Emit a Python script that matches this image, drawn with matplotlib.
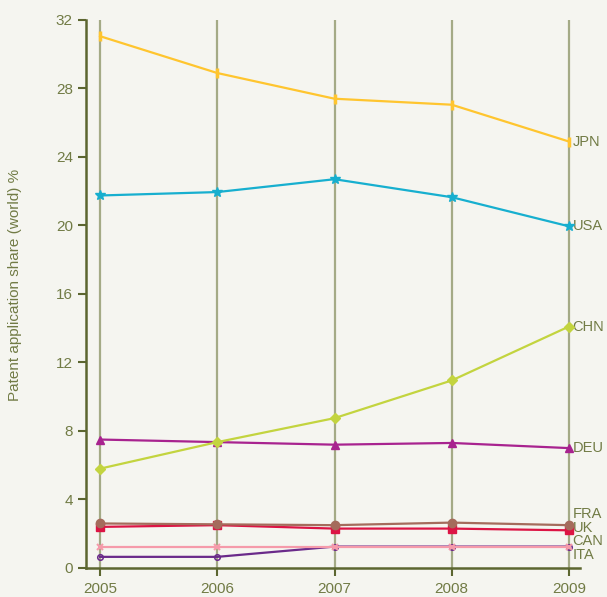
import matplotlib
matplotlib.use("Agg")
import matplotlib.pyplot as plt

plt.rcParams["font.family"] = ["Liberation Sans", "DejaVu Sans"]

years = [2005, 2006, 2007, 2008, 2009]

jpn = [31.05, 28.9, 27.4, 27.05, 24.9]
usa = [21.75, 21.95, 22.7, 21.65, 19.95]
chn = [5.8, 7.35, 8.75, 10.95, 14.1]
deu = [7.5, 7.35, 7.2, 7.3, 7.0]
fra = [2.6, 2.55, 2.5, 2.65, 2.5]
uk = [2.4, 2.5, 2.3, 2.3, 2.2]
can = [1.25, 1.25, 1.25, 1.25, 1.25]
ita = [0.65, 0.65, 1.25, 1.25, 1.25]

# name, values, colour, marker, label offset (data units)
series = [
    ("ITA", ita, "#6A2A8A", "o", -0.49),
    ("CAN", can, "#F59AAA", "x", 0.33),
    ("UK", uk, "#DC1444", "s", 0.14),
    ("FRA", fra, "#A56B5C", "o", 0.65),
    ("DEU", deu, "#A8238F", "^", 0),
    ("CHN", chn, "#C3D43F", "D", 0),
    ("USA", usa, "#17AFCF", "*", 0),
    ("JPN", jpn, "#FFC52F", "|", 0),
]

BG = "#F5F5F0"
OLIVE = "#5C6630"
TEXT = "#717B45"
GRID = "#A4AA86"

fig = plt.figure(figsize=(6.07, 5.97), dpi=100, facecolor=BG)
ax = fig.add_axes([0.1417, 0.0486, 0.8138, 0.918], facecolor=BG)

for yr in years:
    ax.axvline(yr, color=GRID, lw=1.6, zorder=1)

for i, (name, vals, col, mk, dy) in enumerate(series):
    kw = dict(color=col, lw=1.6, marker=mk, markersize=6, zorder=3 + i)
    if name == "ITA":
        kw.update(markerfacecolor="none", markersize=4, markeredgewidth=1.1)
    elif mk == "|":
        kw.update(markersize=7, markeredgewidth=2.5)
    elif mk == "x":
        kw.update(markersize=5, markeredgewidth=1.5)
    elif mk == "*":
        kw.update(markersize=7)
    elif mk == "D":
        kw.update(markersize=5)
    ax.plot(years, vals, **kw)
    ax.text(years[-1] + 0.03, vals[-1] + dy, name, color=TEXT, fontsize=10.5,
            ha="left", va="center")

ax.set_xlim(2004.88, 2009.094)
ax.set_ylim(0, 32)
ax.set_yticks(range(0, 33, 4))
ax.set_xticks(years)

for side in ("top", "right"):
    ax.spines[side].set_visible(False)
for side in ("left", "bottom"):
    ax.spines[side].set_color(OLIVE)
    ax.spines[side].set_linewidth(1.8)

ax.tick_params(axis="both", colors=OLIVE, labelcolor=TEXT, labelsize=11,
               width=1.5, length=6, direction="out")
ax.tick_params(axis="x", pad=4)

fig.text(15 / 607, 1 - 285 / 597, "Patent application share (world) %",
         color=TEXT, fontsize=11, rotation=90, ha="center", va="center")

fig.savefig("out.png", dpi=100, facecolor=BG)
